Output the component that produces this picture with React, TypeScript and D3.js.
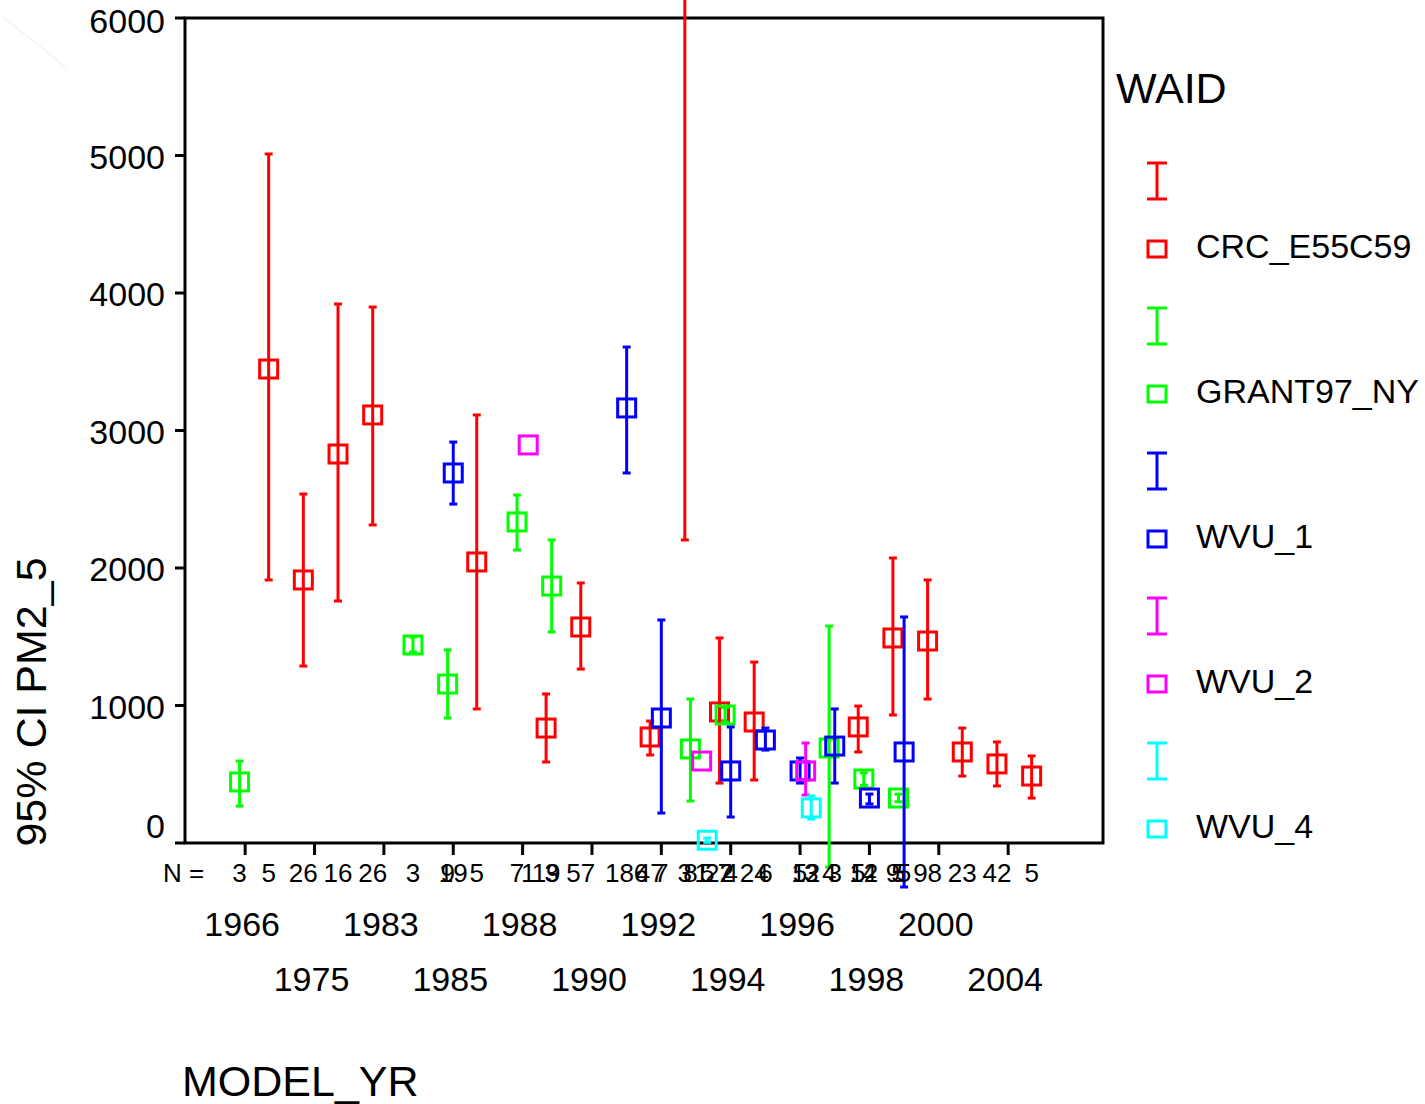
import React from "react";
import * as d3 from "d3";

// ---- data ----
const CATEGORIES = ["1966","1971","1975","1979","1983","1984","1985","1987","1988","1989","1990","1991","1992","1993","1994","1995","1996","1997","1998","1999","2000","2002","2004","2005"];
const WAIDS = ["CRC_E55C59", "GRANT97_NY", "WVU_1", "WVU_2", "WVU_4"];
const COLORS = ["#ff0000", "#00ff00", "#0000ff", "#ff00ff", "#00ffff"];
const Y_TICKS = [0, 1000, 2000, 3000, 4000, 5000, 6000];

// [model year, mean, lower 95% CI, upper 95% CI, N]
type Row = [string, number, number | null, number | null, number];
const CRC_E55C59: Row[] = [
  ["1971", 3447, 1913, 5011, 5],
  ["1975", 1913, 1287, 2538, 26],
  ["1979", 2829, 1760, 3920, 16],
  ["1983", 3113, 2313, 3898, 26],
  ["1987", 2044, 975, 3113, 5],
  ["1989", 836, 589, 1084, 19],
  ["1990", 1571, 1265, 1891, 57],
  ["1992", 771, 640, 887, 47],
  ["1993", 7400, 2204, 12600, 3],
  ["1994", 953, 436, 1491, 22],
  ["1995", 880, 458, 1316, 24],
  ["1998", 844, 662, 996, 5],
  ["1999", 1491, 931, 2073, 9],
  ["2000", 1469, 1047, 1913, 98],
  ["2002", 662, 487, 836, 23],
  ["2004", 575, 415, 735, 42],
  ["2005", 487, 327, 633, 5],
];
const GRANT97_NY: Row[] = [
  ["1966", 444, 269, 596, 3],
  ["1984", 1440, 1389, 1498, 3],
  ["1985", 1156, 909, 1404, 9],
  ["1988", 2335, 2131, 2531, 7],
  ["1989", 1869, 1535, 2204, 3],
  ["1993", 684, 305, 1047, 8],
  ["1994", 931, 880, 985, 7],
  ["1997", 691, -175, 1578, 4],
  ["1998", 465, 420, 510, 12],
  ["1999", 327, 300, 355, 5],
];
const WVU_1: Row[] = [
  ["1985", 2691, 2465, 2916, 19],
  ["1991", 3164, 2691, 3607, 186],
  ["1992", 909, 218, 1622, 7],
  ["1994", 524, 189, 844, 4],
  ["1995", 749, 676, 836, 6],
  ["1996", 524, 436, 618, 5],
  ["1997", 705, 436, 975, 3],
  ["1998", 327, 284, 356, 4],
  ["1999", 662, -320, 1644, 5],
];
const WVU_2: Row[] = [
  ["1988", 2895, null, null, 1],
  ["1993", 596, null, null, 1],
  ["1996", 524, 349, 727, 12],
];
const WVU_4: Row[] = [
  ["1993", 20, 5, 36, 5],
  ["1996", 255, 174, 342, 3],
];
const SERIES = [CRC_E55C59, GRANT97_NY, WVU_1, WVU_2, WVU_4];

const FONT = "'Liberation Sans', Arial, Helvetica, sans-serif";

export default function App() {
  const W = 1425, H = 1104;
  const left = 185, right = 1103, top = 18, bottom = 843;

  const x = d3.scalePoint<string>().domain(CATEGORIES).range([left, right]).padding(1.735);
  const off = d3.scalePoint<string>().domain(WAIDS).range([-11.2, 11.2]);
  const y = d3.scaleLinear().domain([0, 6000]).range([bottom, top]);

  const cap = 4;
  const sq = 18;

  return (
    <div style={{ position: "absolute", left: 0, top: 0, width: W, height: H, background: "#fff" }}>
      <svg width={W} height={H} style={{ display: "block", overflow: "hidden" }} fontFamily={FONT}>
        <rect width={W} height={H} fill="#fff" />
        <line x1={3} y1={17} x2={67} y2={68} stroke="#e4e4e4" strokeWidth={0.8} />

        {/* frame */}
        <rect x={left} y={top} width={right - left} height={bottom - top} fill="none" stroke="#000" strokeWidth={3} />
        {Y_TICKS.map((t) => (
          <g key={t}>
            <line x1={left - 10} x2={left} y1={y(t)} y2={y(t)} stroke="#000" strokeWidth={3} />
            <text x={165} y={y(t) + (t === 0 ? -17 : t === 6000 ? 3 : 1)} dy={12} textAnchor="end" fontSize={34} fill="#000">
              {t}
            </text>
          </g>
        ))}

        {/* x ticks and labels (every other category shown, two staggered rows) */}
        {CATEGORIES.map((c, i) =>
          i % 2 === 0 ? (
            <g key={c}>
              <line x1={x(c)!} x2={x(c)!} y1={bottom} y2={bottom + 12} stroke="#000" strokeWidth={3} />
              <text x={x(c)! - 3} y={(i / 2) % 2 === 0 ? 936 : 991} textAnchor="middle" fontSize={34} fill="#000">
                {c}
              </text>
            </g>
          ) : null
        )}
        <text x={163} y={882} fontSize={26} fill="#000">N =</text>

        {/* error bars */}
        {SERIES.map((rows, si) => {
          const col = COLORS[si];
          return (
            <g key={WAIDS[si]}>
              {rows.map(([yr, m, lo, hi]) => {
                const cx = x(yr)! + off(WAIDS[si])!;
                return (
                  <g key={yr}>
                    {lo !== null && hi !== null && (
                      <g stroke={col} strokeWidth={3} fill="none">
                        <line x1={cx} x2={cx} y1={y(lo)} y2={y(hi)} />
                        <line x1={cx - cap} x2={cx + cap} y1={y(lo)} y2={y(lo)} />
                        <line x1={cx - cap} x2={cx + cap} y1={y(hi)} y2={y(hi)} />
                      </g>
                    )}
                    <rect x={cx - sq / 2} y={y(m) - sq / 2} width={sq} height={sq} fill="none" stroke={col} strokeWidth={3} />
                  </g>
                );
              })}
            </g>
          );
        })}

        {/* N labels */}
        {SERIES.map((rows, si) =>
          rows.map(([yr, , , , n]) => (
            <text key={WAIDS[si] + yr} x={x(yr)! + off(WAIDS[si])!} y={882} textAnchor="middle" fontSize={26} fill="#000">
              {n}
            </text>
          ))
        )}

        {/* axis titles */}
        <text x={182} y={1096} fontSize={43} fill="#000">MODEL_YR</text>
        <text transform="translate(46,702) rotate(-90)" textAnchor="middle" fontSize={43} fill="#000">95% CI PM2_5</text>

        {/* legend */}
        <text x={1116} y={103} fontSize={43} fill="#000">WAID</text>
        {WAIDS.map((w, i) => {
          const iy = 181 + 145 * i;
          const sy = 249 + 145 * i;
          const lx = 1157;
          return (
            <g key={w}>
              <g stroke={COLORS[i]} strokeWidth={3}>
                <line x1={lx} x2={lx} y1={iy - 18} y2={iy + 18} />
                <line x1={lx - 10} x2={lx + 10} y1={iy - 18} y2={iy - 18} />
                <line x1={lx - 10} x2={lx + 10} y1={iy + 18} y2={iy + 18} />
              </g>
              <rect x={lx - 9} y={sy - 8} width={18} height={16} fill="none" stroke={COLORS[i]} strokeWidth={3} />
              <text x={1196} y={sy + 9} fontSize={34} fill="#000">{w}</text>
            </g>
          );
        })}
      </svg>
    </div>
  );
}
